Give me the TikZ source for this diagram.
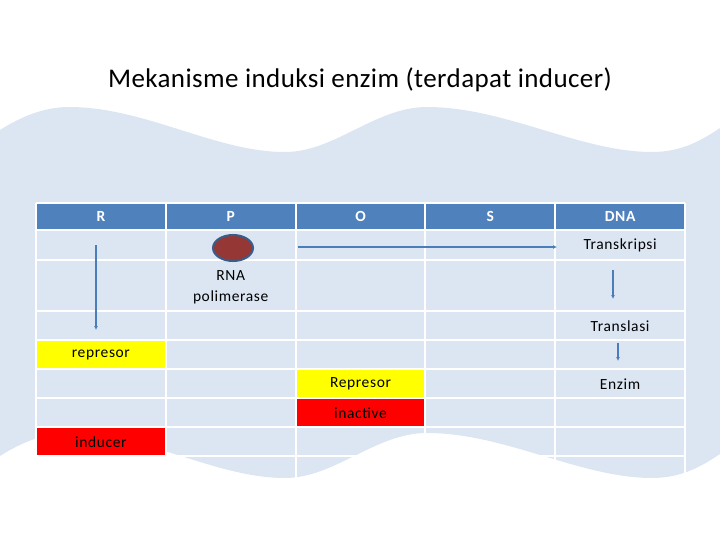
\documentclass[tikz,border=0pt]{standalone}
\usepackage{fontspec}
\setmainfont{Carlito}
\newfontfamily\cellfont[LetterSpace=4]{Carlito}
\newfontfamily\titlefont[LetterSpace=1.5]{Carlito}
\usetikzlibrary{arrows.meta}
\usetikzlibrary{shapes.geometric}
\usetikzlibrary{positioning}

\definecolor{wavebg}{HTML}{DCE6F2}
\definecolor{headblue}{HTML}{4F81BD}
\definecolor{flowblue}{HTML}{4A7EBB}
\definecolor{polred}{HTML}{953735}
\definecolor{polrim}{HTML}{385D8A}
\definecolor{cellyellow}{HTML}{FFFF00}
\definecolor{cellred}{HTML}{FF0000}

\tikzset{
  celltext/.style={font=\cellfont\fontsize{15.5}{21}\selectfont, align=center, inner sep=0pt},
  headtext/.style={font=\cellfont\fontsize{15.5}{16}\selectfont\bfseries, text=white, inner sep=0pt},
  cellbox/.style={minimum width=\cellw pt, minimum height=28pt, inner sep=0pt,
                  font=\cellfont\fontsize{15.5}{16}\selectfont},
  flow/.style={draw=flowblue, line width=1.3pt, -{Latex[length=4pt,width=4pt]}},
  gridline/.style={draw=white, line width=2pt}
}

\begin{document}
\begin{tikzpicture}[x=1pt,y=-1pt]
  \pgfmathsetmacro{\tabx}{36}
  \pgfmathsetmacro{\cellw}{129.8}
  \pgfmathsetmacro{\tabr}{\tabx+5*\cellw}
  \pgfmathsetmacro{\wavedy}{326}

  \useasboundingbox (0,0) rectangle (720,540);

  % Draw background band
  \fill[wavebg]
        (0,130) .. controls (22,116) and (45,107) .. (69,107)
        .. controls (145,107) and (215,152) .. (285,152)
        .. controls (335,152) and (375,107) .. (427,107)
        .. controls (505,107) and (580,152) .. (652,152)
        .. controls (682,152) and (702,140) .. (720,128)
        -- (720,128+\wavedy)
        .. controls (702,140+\wavedy) and (682,152+\wavedy) .. (652,152+\wavedy)
        .. controls (580,152+\wavedy) and (505,107+\wavedy) .. (427,107+\wavedy)
        .. controls (375,107+\wavedy) and (335,152+\wavedy) .. (285,152+\wavedy)
        .. controls (215,152+\wavedy) and (145,107+\wavedy) .. (69,107+\wavedy)
        .. controls (45,107+\wavedy) and (22,116+\wavedy) .. (0,130+\wavedy)
        -- cycle;

  % Draw title
  \node[font=\titlefont\fontsize{27}{30}\selectfont] (title) at (360,80)
        {Mekanisme induksi enzim (terdapat inducer)};

  % Draw header
  \fill[headblue] (\tabx,203) rectangle (\tabr,230);
  \foreach \name/\lbl [count=\i from 0] in {hR/R,hP/P,hO/O,hS/S,hDNA/DNA}
    \node[headtext] (\name) at (\tabx+\i*\cellw+\cellw/2,216.5) {\lbl};

  % Draw coloured cells
  \node[cellbox, fill=cellyellow] (represorA) at (\tabx+\cellw/2,355)   {represor};
  \node[cellbox, fill=cellyellow] (represorB) at (\tabx+2.5*\cellw,384) {Represor};
  \node[cellbox, fill=cellred]    (inactive)  at (\tabx+2.5*\cellw,413) {inactive};
  \node[cellbox, fill=cellred]    (inducer)   at (\tabx+\cellw/2,442)   {inducer};

  % Draw grid
  \foreach \y in {203,230,260,311,340,369,398,427,456,485}
    \draw[gridline] (\tabx,\y) -- (\tabr,\y);
  \foreach \i in {0,...,5}
    \draw[gridline] (\tabx+\i*\cellw,203) -- (\tabx+\i*\cellw,485);

  % Draw cell texts
  \node[celltext] (transkripsi) at (\tabx+4.5*\cellw,245) {Transkripsi};
  \node[celltext] (rnapoltext)  at (\tabx+1.5*\cellw,287) {RNA\\polimerase};
  \node[celltext] (translasi)   at (\tabx+4.5*\cellw,326) {Translasi};
  \node[celltext] (enzim)       at (\tabx+4.5*\cellw,384) {Enzim};

  % Draw RNA polimerase
  \node[ellipse, draw=polrim, line width=2pt, fill=polred,
        minimum width=40pt, minimum height=26pt] (rnapol) at (233,248) {};

  % Draw arrows
  \coordinate (rtop) at (96,245);
  \coordinate (rbot) at (96,330);
  \draw[flow] (rtop) -- (rbot);

  \coordinate (ostart) at (298,247);
  \coordinate (oend)   at (557,247);
  \draw[flow] (ostart) -- (oend);

  \coordinate (tstart) at (613,270);
  \coordinate (tend)   at (613,299);
  \draw[flow] (tstart) -- (tend);

  \coordinate (lstart) at (618,343);
  \coordinate (lend)   at (618,361);
  \draw[flow] (lstart) -- (lend);
\end{tikzpicture}
\end{document}
